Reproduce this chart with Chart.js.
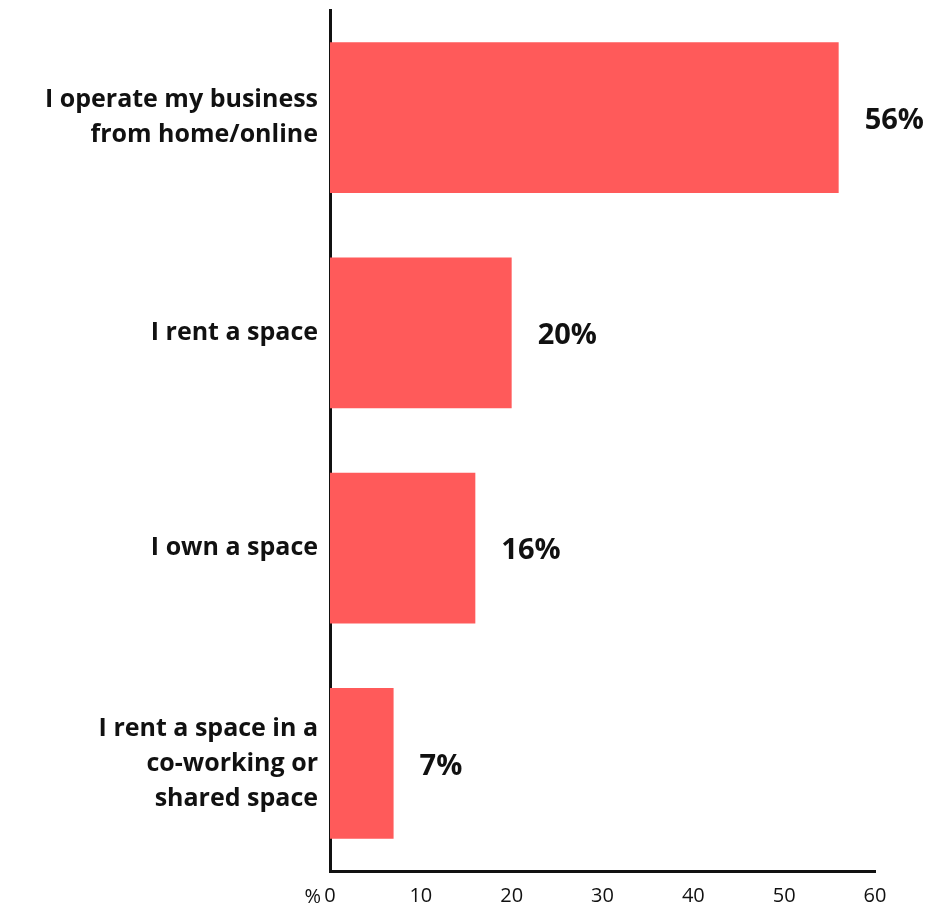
<!DOCTYPE html>
<html>
<head>
<meta charset="utf-8">
<script src="https://cdn.jsdelivr.net/npm/chart.js@4"></script>
<style>
  html, body { margin: 0; padding: 0; background: #fff; }
  #wrap { width: 935px; height: 911px; }
</style>
</head>
<body>
<div id="wrap"><canvas id="workspace"></canvas></div>
<script>
const categories = [
    ['I operate my business', 'from home/online'],
    'I rent a space',
    'I own a space',
    ['I rent a space in a', 'co-working or', 'shared space']
];
const shares = [56, 20, 16, 7];
const xTicks = [0, 10, 20, 30, 40, 50, 60];

const barColor = '#FF5A5A';
const fontName = '"Open Sans", Lato, sans-serif';

// value labels next to bars + the "%" unit left of the 0 tick
const valueLabels = {
    id: 'valueLabels',
    afterDatasetsDraw(chart) {
        const ctx = chart.ctx;
        const meta = chart.getDatasetMeta(0);
        ctx.save();
        ctx.font = 'bold 29px ' + fontName;
        ctx.fillStyle = '#111';
        ctx.textAlign = 'left';
        ctx.textBaseline = 'middle';
        meta.data.forEach((bar, i) => {
            ctx.fillText(shares[i] + '%', bar.x + 26, bar.y + 3);
        });
        const x = chart.scales.x;
        ctx.font = '20px ' + fontName;
        ctx.textAlign = 'right';
        ctx.fillText('%', x.getPixelForValue(0) - 9, x.top + 13 + 13);
        ctx.restore();
    }
};

new Chart(document.getElementById('workspace'), {
    type: 'bar',
    data: {
        labels: categories,
        datasets: [{
            data: shares,
            backgroundColor: barColor,
            borderWidth: 0,
            barPercentage: 0.7,
            categoryPercentage: 1
        }]
    },
    options: {
        indexAxis: 'y',
        responsive: true,
        maintainAspectRatio: false,
        animation: false,
        layout: {
            padding: { top: 10, right: 60, bottom: 0, left: 0 }
        },
        plugins: {
            legend: { display: false },
            tooltip: { enabled: false }
        },
        scales: {
            x: {
                min: 0,
                max: 60,
                afterBuildTicks: (scale) => {
                    scale.ticks = xTicks.map(v => ({ value: v }));
                },
                afterFit: (scale) => { scale.height = 40; },
                grid: { display: false, drawTicks: false },
                border: { color: '#111', width: 3 },
                ticks: {
                    color: '#111',
                    padding: 13,
                    font: { family: fontName, size: 20 }
                }
            },
            y: {
                afterFit: (scale) => {
                    scale.width = 330;
                    scale.paddingTop = 0;
                    scale.paddingBottom = 0;
                },
                grid: { display: false, drawTicks: false },
                border: { color: '#111', width: 3 },
                ticks: {
                    color: '#111',
                    padding: 12,
                    font: { family: fontName, size: 25, weight: 'bold', lineHeight: 1.4 }
                }
            }
        }
    },
    plugins: [valueLabels]
});
</script>
</body>
</html>
